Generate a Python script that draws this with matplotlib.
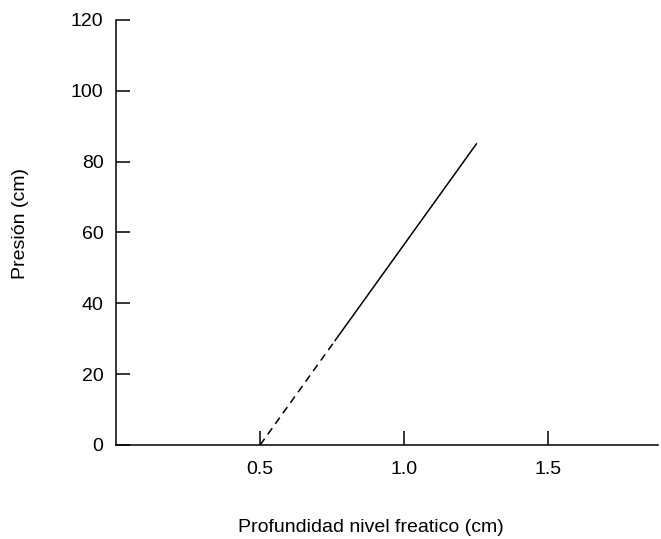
import matplotlib
matplotlib.use('Agg')
import matplotlib.pyplot as plt

plt.rcParams.update({'font.family'      : ['Liberation Sans', 'DejaVu Sans'],
                     'font.size'        : 14,
                     'xtick.direction'  : 'in',
                     'ytick.direction'  : 'in',
                     'axes.linewidth'   : 1.1,
                     'xtick.major.width': 1.1,
                     'ytick.major.width': 1.1,
                     'xtick.major.size' : 10,
                     'ytick.major.size' : 10,
                    })

# extrapolated part (dashed) and measured part (solid)
depth_dashed = [0.5, 0.76]
pres_dashed = [0, 29.5]
depth_solid = [0.76, 1.25]
pres_solid = [29.5, 85]

xticks = [0.5, 1.0, 1.5]
xticklabels = ['0.5', '1.0', '1.5']
yticks = [0, 20, 40, 60, 80, 100, 120]

fig = plt.figure(figsize=(6.61, 5.39), dpi=100)
ax = fig.add_axes([0.1755, 0.1745, 0.82, 0.7885])

ax.plot(depth_dashed, pres_dashed, color='k', lw=1.1, dashes=(5, 3.5))
ax.plot(depth_solid, pres_solid, color='k', lw=1.1)

ax.set_xlim(0, 1.88)
ax.set_ylim(0, 120)
ax.set_xticks(xticks)
ax.set_xticklabels(xticklabels)
ax.set_yticks(yticks)
ax.tick_params(axis='x', pad=11.5, labelsize=14)
ax.tick_params(axis='y', pad=9, labelsize=14)

ax.spines['top'].set_visible(False)
ax.spines['right'].set_visible(False)

ax.set_xlabel('Profundidad nivel freatico (cm)', fontsize=14)
ax.set_ylabel('Presión (cm)', fontsize=14)
ax.xaxis.set_label_coords(0.47, -0.175)
ax.yaxis.set_label_coords(-0.16, 0.52)

fig.savefig('out.png', dpi=100)
